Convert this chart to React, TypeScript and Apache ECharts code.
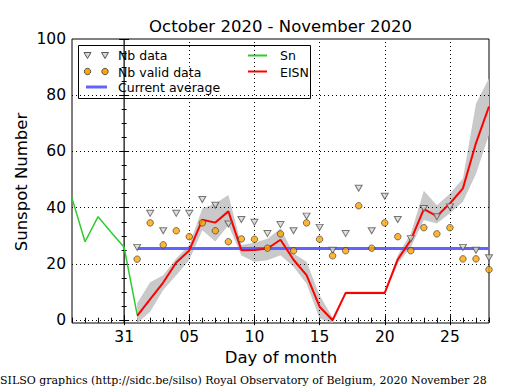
import React, { useEffect, useRef } from "react";
import * as echarts from "echarts";

// x = day offset from 31 October 2020 (Oct 27 = -4, Nov 1 = 1, ...)
const snDays = [-4, -3, -2, -1, 0, 1];
const snValues = [43.4, 27.9, 36.8, 31.3, 25.9, 2.0];

const novDays = [1, 2, 3, 4, 5, 6, 7, 8, 9, 10, 11, 12, 13, 14, 15, 16, 17, 18, 19, 20, 21, 22, 23, 24, 25, 26, 27, 28];
const eisnValues = [1.5, 7.5, 13.4, 20.5, 24.8, 35.7, 34.7, 38.7, 24.9, 25.0, 25.5, 28.6, 21.5, 16.0, 4.8, 0.0, 9.7, 9.7, 9.7, 9.7, 21.6, 28.5, 39.5, 37.0, 41.5, 46.9, 63.0, 76.0];
const bandLow = [-1.5, 3.0, 10.7, 16.0, 21.4, 32.0, 28.0, 33.8, 23.0, 20.8, 21.3, 23.1, 19.0, 13.0, 0.6, -1.5, 9.2, 9.2, 9.2, 9.2, 20.2, 26.0, 35.6, 34.4, 38.0, 42.1, 52.0, 66.0];
const bandHigh = [6.0, 13.5, 16.0, 22.0, 26.7, 39.7, 41.5, 44.5, 26.7, 27.5, 29.0, 32.6, 23.7, 20.8, 8.9, 1.0, 10.2, 10.2, 10.2, 10.2, 23.1, 30.8, 46.0, 40.9, 45.0, 50.4, 77.0, 86.0];
const nbData = [25.9, 38.0, 31.8, 38.0, 38.0, 42.9, 40.9, 34.2, 35.8, 34.8, 30.8, 34.0, 31.8, 37.0, 33.0, 24.9, 30.8, 46.9, 31.8, 44.1, 35.8, 29.0, 39.7, 36.8, 40.3, 25.9, 24.9, 22.2];
const nbValid = [21.7, 34.6, 26.8, 31.8, 29.7, 34.6, 31.8, 27.9, 28.9, 28.8, 25.6, 30.7, 24.7, 34.6, 28.8, 22.9, 24.7, 40.7, 25.6, 34.6, 29.7, 24.7, 32.9, 30.7, 32.9, 21.8, 21.8, 18.0];
const currentAverage = 25.5;
const monthStart = 0; // 31 October boundary line

const xMajorTicks = [0, 5, 10, 15, 20, 25];
const xTickLabels = ["31", "05", "10", "15", "20", "25"];
const xMinorTicks = [-4, -3, -2, -1, 0, 1, 2, 3, 4, 5, 6, 7, 8, 9, 10, 11, 12, 13, 14, 15, 16, 17, 18, 19, 20, 21, 22, 23, 24, 25, 26, 27, 28];
const yMajorTicks = [0, 20, 40, 60, 80, 100];
const yMinorTicks = [0, 5, 10, 15, 20, 25, 30, 35, 40, 45, 50, 55, 60, 65, 70, 75, 80, 85, 90, 95, 100];
const xGrid = [5, 10, 15, 20, 25];
const yGrid = [0, 20, 40, 60, 80];

const X_MIN = -4, X_MAX = 28, Y_MIN = -1, Y_MAX = 100;
const FONT = "DejaVu Sans";

export default function App() {
  const ref = useRef<HTMLDivElement>(null);
  useEffect(() => {
    if (!ref.current) return;
    const chart = echarts.init(ref.current, null, { renderer: "svg" });

    const pair = (xs: number[], ys: number[]) => xs.map((x, i) => [x, ys[i]]);

    const baseX = (extra: any) => ({
      type: "value",
      min: X_MIN,
      max: X_MAX,
      splitLine: { show: false },
      axisLine: { show: false },
      ...extra,
    });
    const baseY = (extra: any) => ({
      type: "value",
      min: Y_MIN,
      max: Y_MAX,
      splitLine: { show: false },
      axisLine: { show: false },
      ...extra,
    });
    const tickStyle = { color: "#000", width: 1 };

    const bandData = novDays.map((d, i) => [d, bandLow[i], bandHigh[i]]);

    const option: any = {
      animation: false,
      grid: {
        left: 72, top: 39, right: 26, bottom: 67,
        show: true, borderColor: "#000", borderWidth: 1, backgroundColor: "#fff",
      },
      xAxis: [
        baseX({
          position: "bottom",
          axisTick: { show: true, inside: true, length: 5, lineStyle: tickStyle, customValues: xMajorTicks },
          axisLabel: {
            show: true, customValues: xMajorTicks, margin: 6, fontSize: 15.5, color: "#000", fontFamily: FONT,
            formatter: (v: number) => xTickLabels[xMajorTicks.indexOf(v)] ?? "",
          },
        }),
        baseX({
          position: "bottom",
          axisTick: { show: true, inside: true, length: 2.5, lineStyle: tickStyle, customValues: xMinorTicks },
          axisLabel: { show: false },
        }),
        baseX({
          position: "top",
          axisTick: { show: true, inside: true, length: 5, lineStyle: tickStyle, customValues: xMajorTicks },
          axisLabel: { show: false },
        }),
        baseX({
          position: "top",
          axisTick: { show: true, inside: true, length: 2.5, lineStyle: tickStyle, customValues: xMinorTicks },
          axisLabel: { show: false },
        }),
      ],
      yAxis: [
        baseY({
          position: "left",
          axisTick: { show: true, inside: true, length: 5, lineStyle: tickStyle, customValues: yMajorTicks },
          axisLabel: { show: true, customValues: yMajorTicks, margin: 6, fontSize: 15.5, color: "#000", fontFamily: FONT },
        }),
        baseY({
          position: "left",
          axisTick: { show: true, inside: true, length: 2.5, lineStyle: tickStyle, customValues: yMinorTicks },
          axisLabel: { show: false },
        }),
        baseY({
          position: "right",
          axisTick: { show: true, inside: true, length: 5, lineStyle: tickStyle, customValues: yMajorTicks },
          axisLabel: { show: false },
        }),
        baseY({
          position: "right",
          axisTick: { show: true, inside: true, length: 2.5, lineStyle: tickStyle, customValues: yMinorTicks },
          axisLabel: { show: false },
        }),
      ],
      series: [
        {
          name: "grid",
          type: "line",
          z: 1,
          data: [[X_MIN, Y_MIN]],
          symbol: "none",
          lineStyle: { opacity: 0 },
          silent: true,
          markLine: {
            silent: true,
            symbol: "none",
            label: { show: false },
            lineStyle: { type: [1, 3], color: "#000", width: 1 },
            data: [
              ...xGrid.map((v) => ({ xAxis: v })),
              ...yGrid.map((v) => ({ yAxis: v })),
            ],
          },
        },
        {
          name: "month start",
          type: "line",
          z: 1,
          silent: true,
          data: [[monthStart, Y_MIN], [monthStart, Y_MAX]],
          symbol: "none",
          lineStyle: { color: "#000", width: 1.2, type: "solid" },
        },
        {
          name: "EISN band",
          type: "custom",
          z: 2,
          silent: true,
          clip: true,
          data: bandData,
          encode: { x: 0, y: [1, 2] },
          renderItem: (params: any, api: any) => {
            if (params.dataIndex !== 0) return null;
            const upper = bandData.map((p) => api.coord([p[0], Math.max(p[2], Y_MIN)]));
            const lower = bandData.map((p) => api.coord([p[0], Math.max(p[1], Y_MIN)])).reverse();
            return {
              type: "polygon",
              shape: { points: upper.concat(lower) },
              style: { fill: "#c9c9c9", stroke: "none" },
            };
          },
        },
        {
          name: "Sn",
          type: "line",
          z: 3,
          data: pair(snDays, snValues),
          symbol: "none",
          lineStyle: { color: "#2dcc2d", width: 1.5 },
        },
        {
          name: "Current average",
          type: "line",
          z: 4,
          data: [[novDays[0], currentAverage], [novDays[novDays.length - 1], currentAverage]],
          symbol: "none",
          lineStyle: { color: "#6262ff", width: 3 },
        },
        {
          name: "EISN",
          type: "line",
          z: 5,
          data: pair(novDays, eisnValues),
          symbol: "none",
          lineStyle: { color: "#ff0000", width: 2 },
        },
        {
          name: "Nb data",
          type: "scatter",
          z: 6,
          data: pair(novDays, nbData),
          symbol: "triangle",
          symbolRotate: 180,
          symbolSize: [7, 6],
          itemStyle: { color: "#d8d8d8", borderColor: "#555", borderWidth: 1 },
        },
        {
          name: "Nb valid data",
          type: "scatter",
          z: 6,
          data: pair(novDays, nbValid),
          symbol: "circle",
          symbolSize: 6.5,
          itemStyle: { color: "#ffa500", borderColor: "#333", borderWidth: 0.8 },
        },
      ],
      graphic: [
        {
          type: "text", x: 280.5, y: 26, z: 100,
          style: { text: "October 2020 - November 2020", fontSize: 16.5, fontFamily: FONT, fill: "#000", textAlign: "center", textVerticalAlign: "middle" },
        },
        {
          type: "text", x: 21, y: 182, rotation: Math.PI / 2, z: 100,
          style: { text: "Sunspot Number", fontSize: 16.5, fontFamily: FONT, fill: "#000", textAlign: "center", textVerticalAlign: "middle" },
        },
        {
          type: "text", x: 281, y: 357, z: 100,
          style: { text: "Day of month", fontSize: 16.5, fontFamily: FONT, fill: "#000", textAlign: "center", textVerticalAlign: "middle" },
        },
        {
          type: "text", x: 0, y: 380, z: 100,
          style: { text: "SILSO graphics (http://sidc.be/silso) Royal Observatory of Belgium, 2020 November 28", fontSize: 11, fontFamily: "DejaVu Serif", fill: "#000", textAlign: "left", textVerticalAlign: "middle" },
        },
        {
          type: "group", z: 100,
          children: [
            { type: "rect", shape: { x: 78.5, y: 45.5, width: 232, height: 53 }, style: { fill: "#fff", stroke: "#000", lineWidth: 1 } },
            { type: "polygon", shape: { points: [[84, 52.5], [91, 52.5], [87.5, 58.5]] }, style: { fill: "#d8d8d8", stroke: "#555", lineWidth: 1 } },
            { type: "polygon", shape: { points: [[101.5, 52.5], [108.5, 52.5], [105, 58.5]] }, style: { fill: "#d8d8d8", stroke: "#555", lineWidth: 1 } },
            { type: "text", x: 118, y: 55.5, style: { text: "Nb data", fontSize: 12.5, fontFamily: FONT, fill: "#000", textVerticalAlign: "middle" } },
            { type: "circle", shape: { cx: 87.5, cy: 71.5, r: 3.2 }, style: { fill: "#ffa500", stroke: "#333", lineWidth: 0.8 } },
            { type: "circle", shape: { cx: 105, cy: 71.5, r: 3.2 }, style: { fill: "#ffa500", stroke: "#333", lineWidth: 0.8 } },
            { type: "text", x: 118, y: 72, style: { text: "Nb valid data", fontSize: 12.5, fontFamily: FONT, fill: "#000", textVerticalAlign: "middle" } },
            { type: "line", shape: { x1: 86, y1: 87, x2: 107, y2: 87 }, style: { stroke: "#6262ff", lineWidth: 3 } },
            { type: "text", x: 118, y: 87, style: { text: "Current average", fontSize: 12.5, fontFamily: FONT, fill: "#000", textVerticalAlign: "middle" } },
            { type: "line", shape: { x1: 248, y1: 55.5, x2: 267, y2: 55.5 }, style: { stroke: "#2dcc2d", lineWidth: 2 } },
            { type: "text", x: 280, y: 55.5, style: { text: "Sn", fontSize: 12.5, fontFamily: FONT, fill: "#000", textVerticalAlign: "middle" } },
            { type: "line", shape: { x1: 248, y1: 71.5, x2: 267, y2: 71.5 }, style: { stroke: "#ff0000", lineWidth: 2 } },
            { type: "text", x: 280, y: 72, style: { text: "EISN", fontSize: 12.5, fontFamily: FONT, fill: "#000", textVerticalAlign: "middle" } },
          ],
        },
      ],
    };

    chart.setOption(option);
    return () => chart.dispose();
  }, []);

  return (
    <div
      ref={ref}
      style={{ position: "fixed", left: 0, top: 0, width: 515, height: 390, background: "#fff" }}
    />
  );
}
